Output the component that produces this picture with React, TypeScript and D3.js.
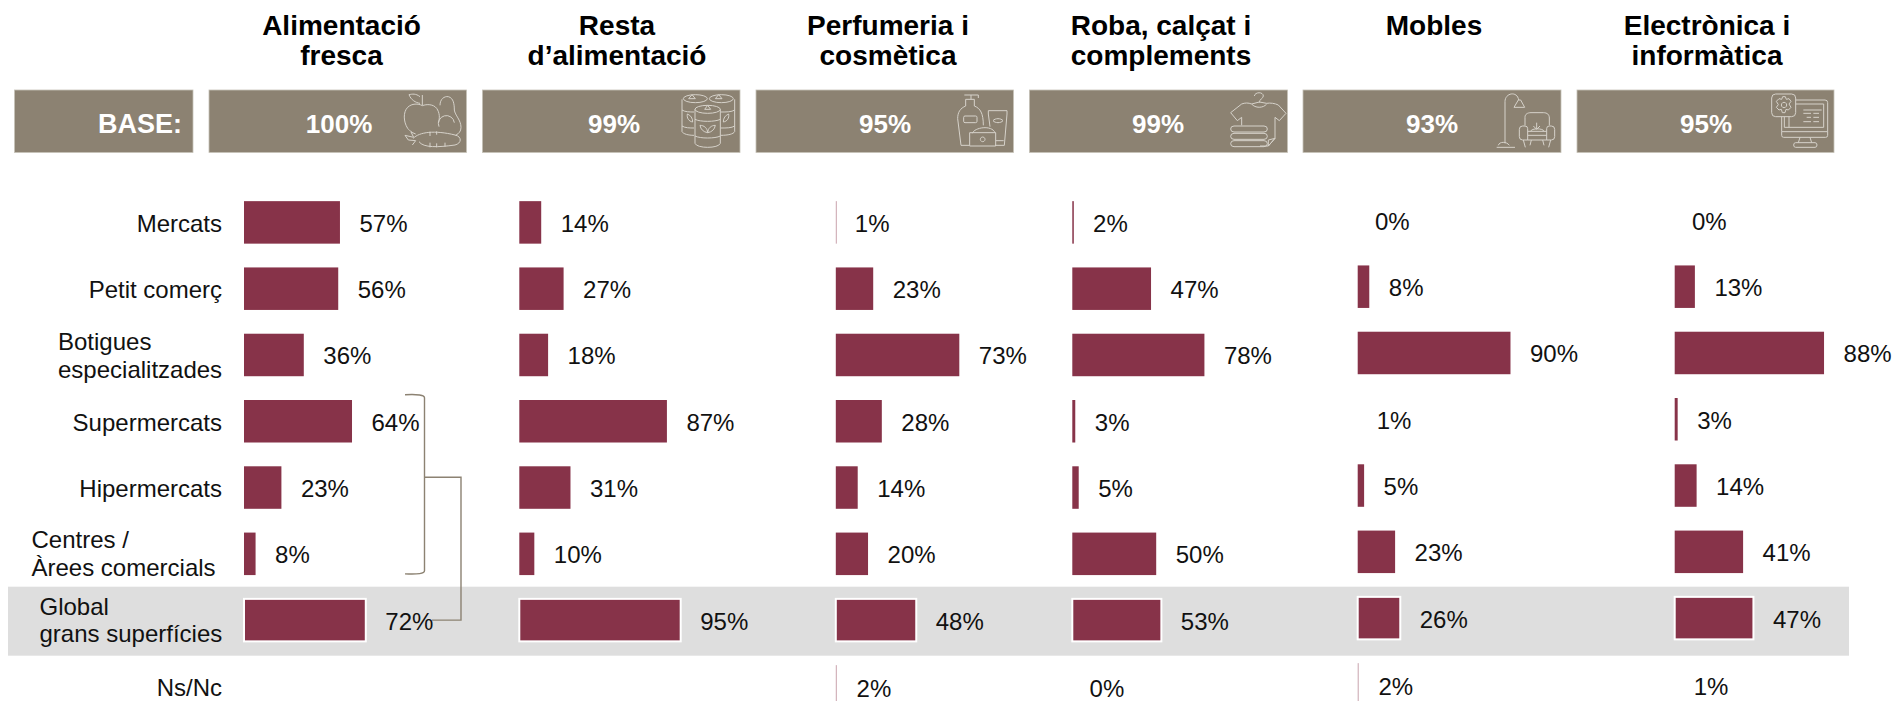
import React from 'react';
import * as d3 from 'd3';

// row labels, one entry per text line
const rowLabels = [
  ['Mercats'],
  ['Petit comerç'],
  ['Botigues', 'especialitzades'],
  ['Supermercats'],
  ['Hipermercats'],
  ['Centres /', 'Àrees comercials'],
  ['Global', 'grans superfícies'],
  ['Ns/Nc'],
];
const rowIds = rowLabels.map((d) => d.join(' '));

const titles = [
  ['Alimentació', 'fresca'],
  ['Resta', 'd’alimentació'],
  ['Perfumeria i', 'cosmètica'],
  ['Roba, calçat i', 'complements'],
  ['Mobles'],
  ['Electrònica i', 'informàtica'],
];
const baseValues = [100, 99, 95, 99, 93, 95];

const alimentacioFresca = [57, 56, 36, 64, 23, 8, 72, null];
const restaAlimentacio = [14, 27, 18, 87, 31, 10, 95, null];
const perfumeria = [1, 23, 73, 28, 14, 20, 48, 2];
const roba = [2, 47, 78, 3, 5, 50, 53, 0];
const mobles = [0, 8, 90, 1, 5, 23, 26, 2];
const electronica = [0, 13, 88, 3, 14, 41, 47, 1];
const series = [alimentacioFresca, restaAlimentacio, perfumeria, roba, mobles, electronica];

// cells where the original shows a hairline or no bar at all: "col-row"
const hairlineBars = ['2-0', '2-7', '4-7'];
const hiddenBars = ['4-3', '5-7'];

const WIDTH = 1894;
const HEIGHT = 701;
const BAR_COLOR = '#873349';
const HEADER_COLOR = '#8c8272';
const BAND_COLOR = '#dedede';
const ICON_COLOR = '#d6d2ca';
const FONT = '"Liberation Sans", Arial, sans-serif';

// the bars start a touch past zero in the original
const x = d3.scaleLinear().domain([0, 100]).range([-2.2, 170]);
const y = d3.scalePoint<string>().domain(rowIds).range([222.4, 686.4]);
const BAR_H = 42.5;

// layout per column
const colX = [244, 519.3, 835.8, 1072.3, 1357.7, 1674.7];
const colDy = [0, 0, 0, 0, -2, -2];
const boxes = [
  [209, 466.5],
  [482.4, 740],
  [756, 1013.5],
  [1029.4, 1287.5],
  [1303, 1561],
  [1577, 1834],
];
const titleX = [341.5, 617, 888, 1161, 1434, 1707];
const baseX = [339, 614, 885, 1158, 1432, 1706];
const iconX = [395, 670, 945, 1220, 1490, 1765];

// line icons, drawn on a 225x192 grid
const icons: string[][] = [
  [
    'M75 20C62 10 52 12 42 14C48 30 62 38 75 40',
    'M82 15V46',
    'M82 47C70 40 50 40 38 52C24 66 25 95 38 115C42 120 46 124 50 125',
    'M82 47C95 42 115 42 125 55C134 68 135 84 130 98',
    'M135 46C135 27 148 18 160 20C176 24 178 44 178 60C180 76 198 90 198 112C198 124 192 130 182 136',
    'M178 98A24 24 0 1 0 132 110',
    'M55 145C72 126 120 120 180 135C202 140 200 160 180 165C130 172 85 174 72 155',
    'M62 132L48 126L56 142L30 136L40 150L62 152L52 165',
    'M105 125V138M125 124V134M105 172V158M125 172V160M150 170V158',
  ],
  [
    'M40 26A36 12 0 0 1 112 26A36 12 0 0 1 40 26',
    'M118 26A36 12 0 0 1 190 26A36 12 0 0 1 118 26',
    'M36 28V125C40 132 55 136 72 136',
    'M194 28V125C190 132 175 136 152 136',
    'M36 60C45 66 60 66 72 66M36 108C45 114 60 114 72 114M194 60C185 66 170 66 152 66M194 108C185 114 170 114 152 114',
    'M75 58A38 12 0 0 1 151 58A38 12 0 0 1 75 58',
    'M75 58V160C80 176 146 176 151 160V58',
    'M75 88C90 96 136 96 151 88M75 138C90 146 136 146 151 138',
    'M113 128C100 126 92 118 90 106C102 106 112 114 113 128C114 114 124 106 136 106C134 118 126 126 113 128',
    'M52 72C62 76 68 84 68 96C56 94 50 84 52 72M176 72C166 76 160 84 160 96C172 94 178 84 176 72',
    'M66 14L76 26H56ZM146 14L156 26H136ZM113 46L122 58H104Z',
  ],
  [
    'M58 15H100V24M78 15V28',
    'M62 48V28H88V48',
    'M62 48C46 55 38 66 38 86L48 166H72',
    'M88 48C106 55 115 70 115 106',
    'M60 78H92Q96 78 96 82V94Q96 98 92 98H60Q56 98 56 94V82Q56 78 60 78',
    'M130 62H186V72L178 166H150M130 62V72L135 110',
    'M144 92C150 84 168 84 174 92C168 100 150 100 144 92',
    'M82 130C88 112 140 104 150 128',
    'M74 128H152V168H74Z',
    'M113 141A7 7 0 1 0 113.1 141',
    'M152 152H176',
  ],
  [
    'M103 18C105 5 130 5 130 18C130 25 118 27 118 38',
    'M95 42C85 38 75 38 65 42L32 68L52 92L65 82V106',
    'M140 40C150 38 165 40 175 45L198 70L178 92L165 82V145L145 168H120',
    'M95 42C105 55 130 55 140 42M95 42L118 36L140 40',
    'M42 108H132Q142 108 142 117Q142 126 132 126H42Q32 126 32 117Q32 108 42 108',
    'M42 130H132Q142 130 142 139Q142 148 132 148H42Q32 148 32 139Q32 130 42 130',
    'M42 152H132Q142 152 142 161Q142 170 132 170H42Q32 170 32 161Q32 152 42 152',
    'M145 150L165 145L145 168Z',
  ],
  [
    'M45 160V35C45 8 82 2 86 30',
    'M85 30L72 52H104L92 30Z',
    'M25 166C28 154 50 154 58 166',
    'M20 172H75',
    'M105 106V82C105 72 113 68 123 68H160C172 68 178 74 178 84V106',
    'M98 108H105Q113 108 113 116V150H98Q88 150 88 140V118Q88 108 98 108',
    'M184 108H178Q170 108 170 116V150H184Q194 150 194 140V118Q194 108 184 108',
    'M113 124H170M113 136H170M113 150H170',
    'M122 124C124 114 160 114 162 124',
    'M140 98V116M130 108L140 118L150 108',
    'M100 150L106 172M182 150L176 172M124 150L120 166M158 150L162 166',
  ],
  [
    'M32 12H80Q92 12 92 24V68Q92 80 80 80H32Q20 80 20 68V24Q20 12 32 12',
    'M57 37A8 8 0 1 0 57.1 37',
    'M50 28L53 20H61L64 28L72 26L78 34L72 42L78 52L70 60L63 58L60 68H52L49 58L42 60L34 52L40 44L34 34L42 26Z',
    'M92 30H180Q188 30 188 38V125H50V80',
    'M92 42H176V112H58V80M72 80V112',
    'M50 125V136Q50 142 56 142H182Q188 142 188 136V125',
    'M105 142L100 158M135 142L140 158',
    'M92 158H150Q156 158 156 165Q156 172 150 172H92Q86 172 86 165Q86 158 92 158',
    'M115 70H138M145 70H162M125 82H138M145 82H162M115 95H138M145 95H162M115 60H170',
  ],
];

// multi-line row labels start at a fixed left edge
const LABEL_RIGHT = 222;
const labelLeft: Record<number, number> = { 2: 58, 5: 31.5, 6: 39.5 };
const labelDy: Record<number, number> = { 2: 1, 5: 0, 6: 0 };
const LINE_H = 27.6;

const App = () => {
  const bracketColor = HEADER_COLOR;
  const topY = (y(rowIds[3]) as number) - 26.5;
  const bottomY = (y(rowIds[5]) as number) + 20;
  const midY = (topY + bottomY) / 2 - 7;
  const globalY = y(rowIds[6]) as number;

  return (
    <svg
      width={WIDTH}
      height={HEIGHT}
      viewBox={`0 0 ${WIDTH} ${HEIGHT}`}
      style={{ position: 'fixed', left: 0, top: 0, display: 'block', background: '#fff' }}
      fontFamily={FONT}
    >
      {/* titles */}
      {titles.map((lines, i) => (
        <text key={i} textAnchor="middle" fontSize={28} fontWeight="bold" fill="#000">
          {lines.map((l, j) => (
            <tspan key={j} x={titleX[i]} y={35 + j * 30}>
              {l}
            </tspan>
          ))}
        </text>
      ))}

      {/* BASE band */}
      <rect x={14.5} y={90} width={178.5} height={62.5} fill={HEADER_COLOR} stroke="#c6c2b8" strokeWidth={0.8} />
      <text x={182} y={133} textAnchor="end" fontSize={27} fontWeight="bold" fill="#fff">
        BASE:
      </text>
      {boxes.map(([a, b], i) => (
        <g key={i}>
          <rect x={a} y={90} width={b - a} height={62.5} fill={HEADER_COLOR} stroke="#c6c2b8" strokeWidth={0.8} />
          <text x={baseX[i]} y={133} textAnchor="middle" fontSize={26} fontWeight="bold" fill="#fff">
            {baseValues[i]}%
          </text>
          <g transform={`translate(${iconX[i]},90) scale(${1 / 3})`} fill="none" stroke={ICON_COLOR} strokeWidth={3}>
            {icons[i].map((d, k) => (
              <path key={k} d={d} />
            ))}
          </g>
        </g>
      ))}

      {/* highlighted row */}
      <rect x={8} y={586.7} width={1841} height={69} fill={BAND_COLOR} />

      {/* row labels */}
      {rowLabels.map((lines, r) => {
        const cy = y(rowIds[r]) as number;
        if (lines.length === 1) {
          return (
            <text key={r} x={LABEL_RIGHT} y={cy + 9.5} textAnchor="end" fontSize={24} fill="#111">
              {lines[0]}
            </text>
          );
        }
        return (
          <text key={r} fontSize={24} fill="#111">
            {lines.map((l, j) => (
              <tspan key={j} x={labelLeft[r]} y={cy - 5.5 + labelDy[r] + j * LINE_H}>
                {l}
              </tspan>
            ))}
          </text>
        );
      })}

      {/* bars and value labels */}
      {series.map((values, c) =>
        values.map((v, r) => {
          if (v === null) return null;
          const key = `${c}-${r}`;
          const cy = (y(rowIds[r]) as number) + colDy[c];
          const hair = hairlineBars.includes(key);
          const hidden = hiddenBars.includes(key) || v === 0;
          const w = hair ? 1 : Math.max(x(v), 1.5);
          const global = r === 6;
          return (
            <g key={key}>
              {!hidden && (
                <rect
                  x={colX[c]}
                  y={cy - BAR_H / 2}
                  width={w}
                  height={BAR_H}
                  fill={BAR_COLOR}
                  opacity={hair ? 0.45 : 1}
                  stroke={global ? '#fff' : 'none'}
                  strokeWidth={global ? 2 : 0}
                />
              )}
              <text x={colX[c] + x(v) + 19.5} y={cy + 9.5 + (r === 7 ? 1 : 0)} fontSize={24} fill="#111">
                {v}%
              </text>
            </g>
          );
        })
      )}

      {/* bracket joining the big-surface formats */}
      <path
        d={`M405 ${topY}Q424.5 ${topY - 1} 424.5 ${topY + 3}V${bottomY - 3}Q424.5 ${bottomY + 1} 405 ${bottomY}`}
        fill="none"
        stroke={bracketColor}
        strokeWidth={1.4}
      />
      <path
        d={`M424.5 ${midY}H461V${globalY}H432`}
        fill="none"
        stroke={bracketColor}
        strokeWidth={1.4}
      />
    </svg>
  );
};

export default App;
